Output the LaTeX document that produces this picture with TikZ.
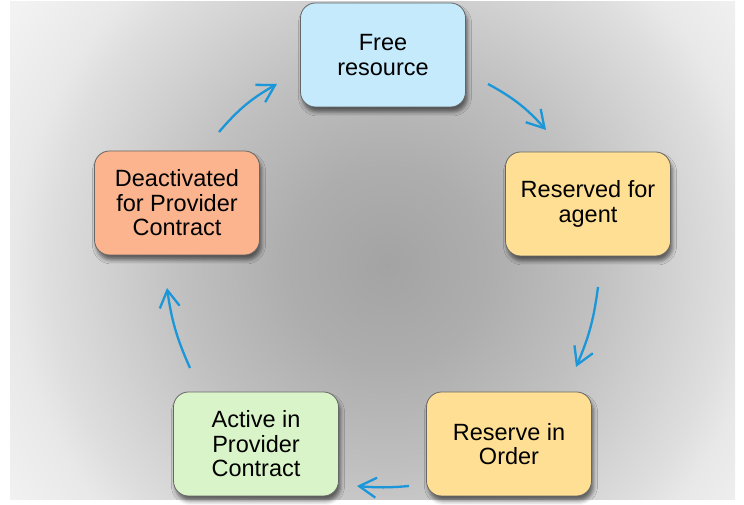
\documentclass[tikz,border=0pt]{standalone}
\usepackage{fontspec}
\setmainfont{Liberation Sans}
\usetikzlibrary{arrows.meta,shadows.blur}
\definecolor{freeblue}{RGB}{196,234,252}
\definecolor{reservedyellow}{RGB}{255,223,148}
\definecolor{activegreen}{RGB}{218,244,201}
\definecolor{deactorange}{RGB}{251,180,142}
\definecolor{arrowblue}{RGB}{27,150,216}
\pgfdeclareradialshading{bgshade}{\pgfpoint{0bp}{0bp}}{rgb(0bp)=(0.64,0.64,0.64); rgb(5.4bp)=(0.68,0.68,0.68); rgb(11bp)=(0.75,0.75,0.75); rgb(18.4bp)=(0.87,0.87,0.87); rgb(20.3bp)=(0.91,0.91,0.91); rgb(24.5bp)=(0.95,0.95,0.95); rgb(50bp)=(0.95,0.95,0.95)}
\tikzset
{
	statenode/.style = {rectangle, rounded corners=15pt, draw=black!60, line width=0.8pt, align=center, minimum width=165pt, minimum height=104pt, font=\fontsize{23.5}{24.5}\selectfont, blur shadow={shadow xshift=2pt, shadow yshift=-5pt, shadow blur radius=4pt, shadow opacity=55}},
	cyclearrow/.style = {draw=arrowblue, line width=2.3pt, -{Straight Barb[length=17pt,width=20pt]}}
}

\begin{document}
\begin{tikzpicture}[x=1pt, y=1pt]
\useasboundingbox (0,0) rectangle (744,505);
\begin{scope}
\clip (10,5) rectangle (735,503);
\shade[shading=bgshade] (-72,-220) rectangle (848,700);
\end{scope}
% states
\node[statenode, fill=freeblue] (free) at (383,450) {Free\\resource};
\node[statenode, fill=reservedyellow] (reserved) at (588,301) {Reserved for\\agent};
\node[statenode, fill=reservedyellow] (order) at (509,61) {Reserve in\\Order};
\node[statenode, fill=activegreen] (active) at (256,61) {Active in\\Provider\\Contract};
\node[statenode, fill=deactorange] (deact) at (177,302) {Deactivated\\for Provider\\Contract};
% arrow ends
\coordinate (deact-out) at (219,373);
\coordinate (free-in) at (277,421);
\coordinate (free-out) at (488,421);
\coordinate (reserved-in) at (546,375);
\coordinate (reserved-out) at (598,218);
\coordinate (order-in) at (576,138);
\coordinate (order-out) at (409,19);
\coordinate (active-in) at (357,19);
\coordinate (active-out) at (190,137);
\coordinate (deact-in) at (167,217);
\draw[cyclearrow] (deact-out) to[bend left=10] (free-in);
\draw[cyclearrow] (free-out) to[bend left=10] (reserved-in);
\draw[cyclearrow] (reserved-out) to[bend left=8] (order-in);
\draw[cyclearrow] (order-out) to[bend left=5] (active-in);
\draw[cyclearrow] (active-out) to[bend left=8] (deact-in);
\end{tikzpicture}
\end{document}
